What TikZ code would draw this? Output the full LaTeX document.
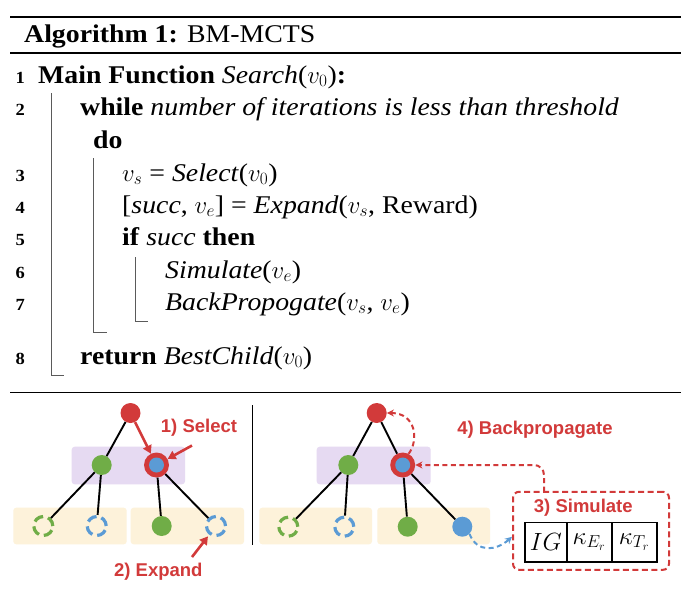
\documentclass[tikz,border=0pt]{standalone}
\usepackage{fontspec}
\setmainfont[FakeStretch=1.09]{Liberation Serif}
\newfontfamily\lblfont{Liberation Sans}
\usetikzlibrary{arrows.meta}
\DeclareMathSizes{25.5}{26}{19}{15}
\definecolor{cred}{RGB}{210,58,58}
\definecolor{cgreen}{RGB}{112,173,71}
\definecolor{cblue}{RGB}{91,155,213}
\definecolor{cpurple}{RGB}{230,218,242}
\definecolor{cyellow}{RGB}{253,242,218}
\definecolor{bargray}{RGB}{90,90,90}
\newcommand\algsize{\fontsize{25.5}{30}\selectfont}
\newcommand\lnsize{\fontsize{17}{19}\selectfont\bfseries}
\newcommand\lblsize{\lblfont\bfseries\fontsize{18.5}{21}\selectfont}
\begin{document}
\begin{tikzpicture}[x=1pt,y=-1pt,
  alg/.style={anchor=base west,inner sep=0pt,font=\algsize},
  lnum/.style={anchor=base east,inner sep=0pt,font=\lnsize},
  bar/.style={draw=bargray,line width=1pt},
  rule/.style={line width=1.7pt},
  solidnode/.style={circle,minimum size=20pt,inner sep=0pt},
  dashnode/.style={circle,minimum size=19pt,inner sep=0pt,line width=3.2pt,dash pattern=on 10pt off 5pt},
  selnode/.style={circle,fill=cred,minimum size=25pt,inner sep=0pt},
  selinner/.style={circle,fill=cblue,minimum size=15pt,inner sep=0pt},
  treeedge/.style={line width=1.9pt},
  bandp/.style={fill=cpurple,rounded corners=3pt},
  bandy/.style={fill=cyellow,rounded corners=3pt},
  lbl/.style={font=\lblsize,text=cred,inner sep=0pt},
  redarrow/.style={draw=cred,line width=2.6pt,-{Triangle[length=8pt,width=9pt]}},
  dasharrow/.style={line width=2pt,dash pattern=on 5pt off 3.5pt,-{Stealth[length=7pt,width=7pt]}},
  cell/.style={draw,line width=1.6pt,minimum height=39.4pt,inner sep=0pt,font=\fontsize{24}{26}\selectfont}
]
\fill[white] (0,0) rectangle (691,590);
\useasboundingbox (0,0) rectangle (691,590);

% ---------- algorithm ----------
\draw[rule] (10,17) -- (681,17);
\node[alg] (title) at (24,42) {\textbf{Algorithm 1:} BM-MCTS};
\draw[line width=1.3pt] (10,53) -- (681,53);

\node[lnum] (n1) at (25,83) {1};
\node[alg] (l1) at (38,83) {\textbf{Main Function} \textit{Search}($v_0$)\textbf{:}};
\node[lnum] (n2) at (25,115) {2};
\node[alg] (l2) at (80,115) {\textbf{while} \textit{number of iterations is less than threshold}};
\node[alg] (ldo) at (93,148) {\textbf{do}};
\node[lnum] (n3) at (25,181) {3};
\node[alg] (l3) at (122,181) {$v_s$ = \textit{Select}($v_0$)};
\node[lnum] (n4) at (25,213) {4};
\node[alg] (l4) at (122,213) {[\textit{succ}, $v_e$] = \textit{Expand}($v_s$, Reward)};
\node[lnum] (n5) at (25,245) {5};
\node[alg] (l5) at (122,245) {\textbf{if} \textit{succ} \textbf{then}};
\node[lnum] (n6) at (25,278) {6};
\node[alg] (l6) at (165,278) {\textit{Simulate}($v_e$)};
\node[lnum] (n7) at (25,310) {7};
\node[alg] (l7) at (165,310) {\textit{BackPropogate}($v_s$, $v_e$)};
\node[lnum] (n8) at (25,364) {8};
\node[alg] (l8) at (80,364) {\textbf{return} \textit{BestChild}($v_0$)};

\draw[bar] (51,93) |- (64,375);
\draw[bar] (93,158) |- (107,332);
\draw[bar] (135,257) |- (148,321);

\draw[line width=1.9pt] (10,392.5) -- (681,392.5);

% ---------- left tree ----------
\fill[bandp] (71.7,446.7) rectangle (185,484.3);
\fill[bandy] (13.3,507.7) rectangle (126.7,544.3);
\fill[bandy] (130.7,507.7) rectangle (244,544.3);

\node[solidnode,fill=cred] (rootL) at (130.5,413) {};
\node[solidnode,fill=cgreen] (gL) at (101.7,465) {};
\node[selnode] (sL) at (156.5,465) {};
\node[selinner] (sLin) at (sL) {};
\node[dashnode,draw=cgreen] (aL) at (43.3,526) {};
\node[dashnode,draw=cblue] (bL) at (96.7,526) {};
\node[solidnode,fill=cgreen] (cL) at (161.7,526) {};
\node[dashnode,draw=cblue] (dL) at (216,526) {};

\draw[treeedge] (rootL) -- (gL);
\draw[treeedge] (gL) -- (aL);
\draw[treeedge] (gL) -- (bL);
\draw[treeedge] (sL) -- (cL);
\draw[treeedge] (sL) -- (dL);
\draw[redarrow] (rootL) -- (sL);

\node[lbl] (selbl) at (199,428) {1) Select};
\coordinate (selfrom) at (192,445.5);
\draw[redarrow] (selfrom) -- (sL);
\node[lbl] (explbl) at (158.3,571.7) {2) Expand};
\coordinate (expfrom) at (192,557);
\draw[redarrow,shorten >=2pt] (expfrom) -- (dL);

% separator
\draw[line width=1pt] (252.7,405) -- (252.7,545);

% ---------- right tree ----------
\fill[bandp] (316.7,446.7) rectangle (430.7,484.3);
\fill[bandy] (259.3,507.7) rectangle (372,544.3);
\fill[bandy] (377.3,507.7) rectangle (490,544.3);

\node[solidnode,fill=cred] (rootR) at (376.7,413) {};
\node[solidnode,fill=cgreen] (gR) at (348.3,465) {};
\node[selnode] (sR) at (402.7,465) {};
\node[selinner] (sRin) at (sR) {};
\node[dashnode,draw=cgreen] (aR) at (288.3,526.7) {};
\node[dashnode,draw=cblue] (bR) at (344.3,526.7) {};
\node[solidnode,fill=cgreen] (cR) at (407.7,526.7) {};
\node[solidnode,fill=cblue] (dR) at (462.3,526.7) {};

\draw[treeedge] (rootR) -- (gR);
\draw[treeedge] (rootR) -- (sR);
\draw[treeedge] (gR) -- (aR);
\draw[treeedge] (gR) -- (bR);
\draw[treeedge] (sR) -- (cR);
\draw[treeedge] (sR) -- (dR);

\node[lbl] (bplbl) at (535,430) {4) Backpropagate};
\draw[dasharrow,draw=cred] (sR.62) .. controls (419,440) and (416,413) .. (rootR.east);

% simulate box
\node[draw=cred,line width=2pt,dash pattern=on 6pt off 3.5pt,rounded corners=6pt,minimum width=156pt,minimum height=78pt,inner sep=0pt] (sim) at (591,530.8) {};
\node[lbl] (simlbl) at (583.3,507.3) {3) Simulate};
\node[cell,minimum width=41.7pt] (c1) at (545.85,542) {$IG$};
\node[cell,minimum width=45pt] (c2) at (589.2,542) {$\kappa_{E_r}$};
\node[cell,minimum width=45pt] (c3) at (634.2,542) {$\kappa_{T_r}$};

\coordinate (simtop) at (544,491.7);
\draw[dasharrow,draw=cred,rounded corners=10pt] (simtop) |- (sR);
\draw[dasharrow,draw=cblue] (dR.-45) .. controls (477,553) and (496,551) .. ([yshift=-6pt]sim.west);
\end{tikzpicture}
\end{document}
